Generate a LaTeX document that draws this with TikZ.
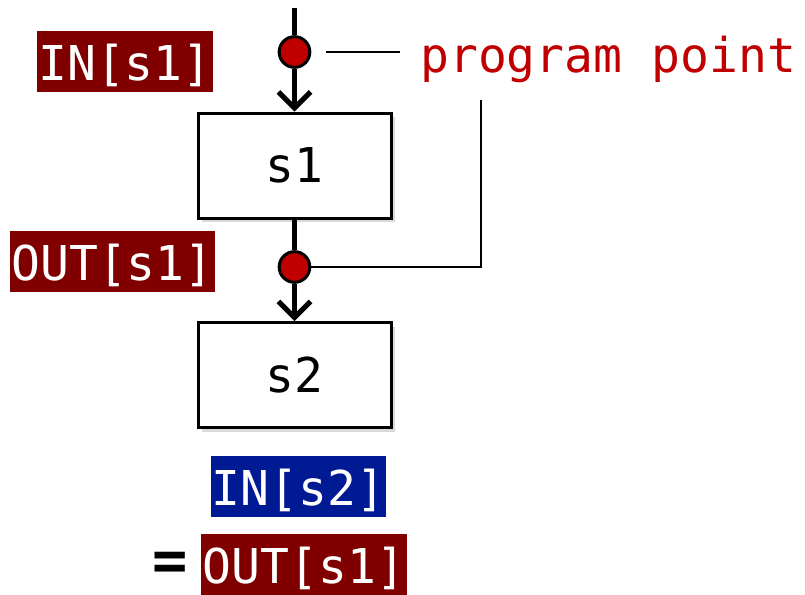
\documentclass[tikz,border=0pt]{standalone}
\usepackage{fontspec}
\setmonofont{DejaVu Sans Mono}
\usetikzlibrary{arrows.meta,shadows,calc}
\definecolor{outred}{HTML}{800000}
\definecolor{inblue}{HTML}{001A94}
\definecolor{ptred}{HTML}{C00000}
\begin{document}
\begin{tikzpicture}[x=0.75pt,y=-0.75pt,
	stmt/.style={draw,line width=2.25pt,fill=white,minimum width=144.75pt,minimum height=78.75pt,
		drop shadow={shadow xshift=3pt,shadow yshift=-3pt,opacity=0.3}},
	tag/.style={text=white,inner sep=0pt,minimum height=45.75pt,text height=30pt,text depth=2pt},
	ppt/.style={circle,draw,line width=2.25pt,fill=ptred,minimum size=23pt,inner sep=0pt},
	flow/.style={line width=3.75pt,-{Straight Barb[length=12pt,width=24pt]}},
	lead/.style={line width=2pt}]
\ttfamily\fontsize{36}{40}\selectfont
\useasboundingbox (0,0) rectangle (805,594);
\node[stmt] (s1) at (294.5,165.5) {s1};
\node[stmt] (s2) at (294.5,375) {s2};
\coordinate (top) at (294.5,8);
\node[ppt] (p1) at (294.5,52) {};
\node[ppt] (p2) at (294.5,267) {};
\draw[line width=3.75pt] (top) -- (p1);
\draw[flow] (p1) -- (s1);
\draw[line width=3.75pt] (s1) -- (p2);
\draw[flow] (p2) -- (s2);
\node[tag,fill=outred,minimum width=132pt] (ins1) at (125,61.5) {IN[s1]};
\node[tag,fill=outred,minimum width=153.75pt] (outs1) at (112.5,261.5) {OUT[s1]};
\node[text=ptred,anchor=base west,inner sep=0pt] (pp) at (420,72) {program point};
\draw[lead] ($(p1.east)+(15,0)$) -- ($(pp.west |- p1)+(-20,0)$);
\coordinate (bend) at (481,267);
\coordinate (rise) at (481,100);
\draw[lead] (p2) -- (bend) -- (rise);
\node[tag,fill=inblue,minimum width=131.25pt] (ins2) at (298.5,486.5) {IN[s2]};
\node[tag,fill=outred,minimum width=154.5pt] (outs1b) at (304,564.5) {OUT[s1]};
\node[font=\bfseries\fontsize{44}{48}\selectfont] (eq) at (170,566) {=};
\end{tikzpicture}
\end{document}
